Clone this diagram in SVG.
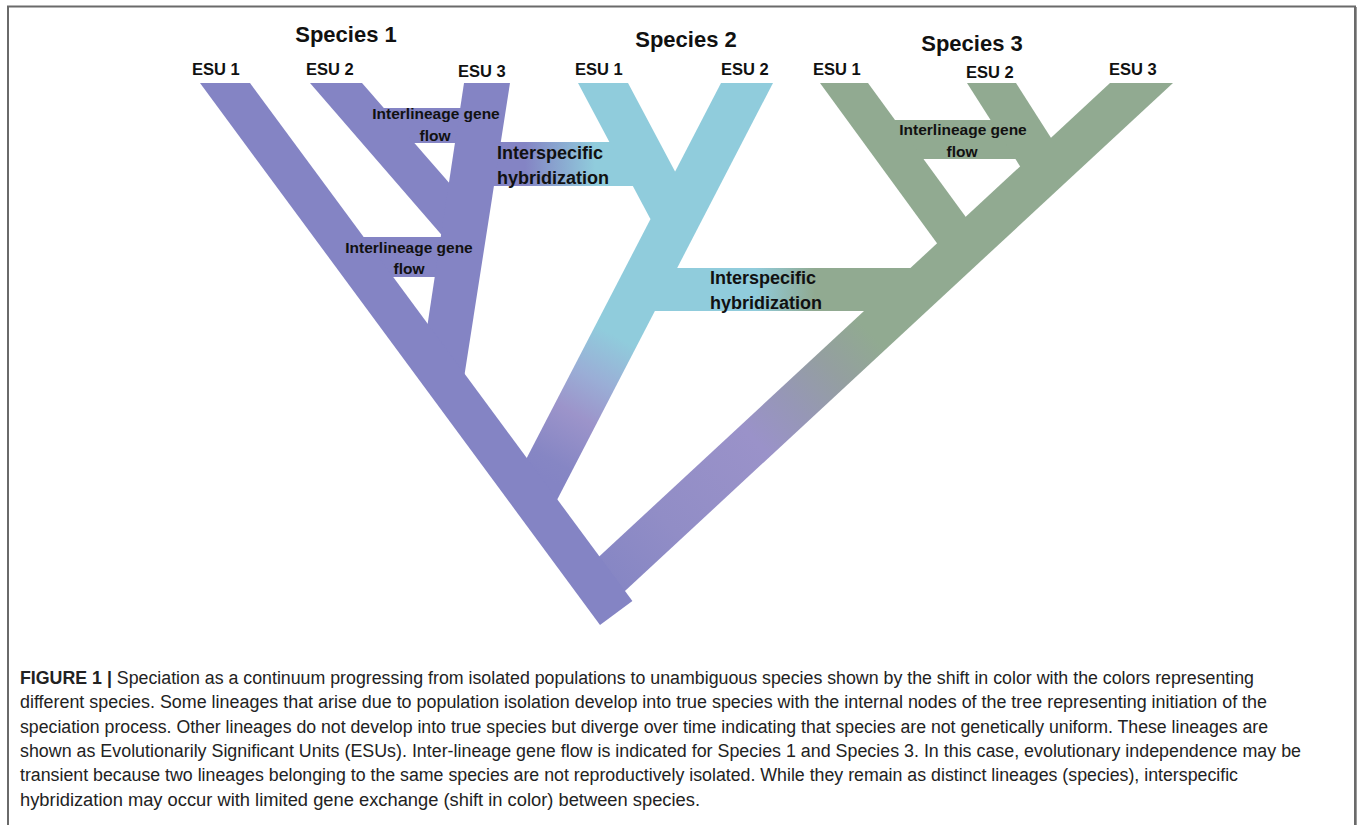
<svg xmlns="http://www.w3.org/2000/svg" width="1358" height="825" viewBox="0 0 1358 825">
  <style>
    .sp1 { fill: #8484C4; }
    .sp2 { fill: #90CCDC; }
    .sp3 { fill: #91AA91; }
    .title { font-family: "Liberation Sans", Arial, sans-serif; font-weight: bold; font-size: 22px; fill: #111; text-anchor: middle; }
    .esu { font-family: "Liberation Sans", Arial, sans-serif; font-weight: bold; font-size: 16.5px; fill: #111; }
    .gf { font-family: "Liberation Sans", Arial, sans-serif; font-weight: bold; font-size: 15.5px; fill: #111; text-anchor: middle; }
    .hy { font-family: "Liberation Sans", Arial, sans-serif; font-weight: bold; font-size: 18px; fill: #111; }
    .cap { font-family: "Liberation Sans", Arial, sans-serif; font-size: 17.6px; fill: #222; }
    .capb { font-weight: bold; }
  </style>
  <defs>
    <linearGradient id="gBar12" gradientUnits="userSpaceOnUse" x1="525" y1="0" x2="595" y2="0">
      <stop offset="0" stop-color="#8484C4"/>
      <stop offset="1" stop-color="#90CCDC"/>
    </linearGradient>
    <linearGradient id="gBar23" gradientUnits="userSpaceOnUse" x1="755" y1="0" x2="815" y2="0">
      <stop offset="0" stop-color="#90CCDC"/>
      <stop offset="1" stop-color="#91AA91"/>
    </linearGradient>
    <linearGradient id="gSp2" gradientUnits="userSpaceOnUse" x1="640" y1="320" x2="550" y2="480">
      <stop offset="0" stop-color="#90CCDC"/>
      <stop offset="0.14" stop-color="#90CCDC"/>
      <stop offset="0.4" stop-color="#9AAED6"/>
      <stop offset="0.62" stop-color="#9C94CA"/>
      <stop offset="0.9" stop-color="#8686C4"/>
      <stop offset="1" stop-color="#8484C4"/>
    </linearGradient>
    <linearGradient id="gSp3" gradientUnits="userSpaceOnUse" x1="900" y1="300" x2="610" y2="580">
      <stop offset="0" stop-color="#91AA91"/>
      <stop offset="0.11" stop-color="#91AA91"/>
      <stop offset="0.24" stop-color="#949FA0"/>
      <stop offset="0.37" stop-color="#9697B6"/>
      <stop offset="0.5" stop-color="#9A92C9"/>
      <stop offset="0.8" stop-color="#918DC6"/>
      <stop offset="1" stop-color="#8686C4"/>
    </linearGradient>
  </defs>

  <rect width="1358" height="825" fill="#ffffff"/>

  <!-- frame -->
  <g id="frame" fill="none">
    <path d="M8,826 V6.5 H1355 V826" stroke="#6a6a6a" stroke-width="2"/>
    <line x1="1356.5" y1="7" x2="1356.5" y2="826" stroke="#9a9a9a" stroke-width="1"/>
  </g>

  <!-- hybridization bars (connectors between species) -->
  <g id="connectors">
    <rect id="hyb-1-2" x="488" y="142" width="155" height="44" fill="url(#gBar12)"/>
    <rect id="hyb-2-3" x="640" y="268" width="278" height="43" fill="url(#gBar23)"/>
  </g>

  <!-- Species 2 -->
  <g id="species2">
    <polygon class="sp2" points="578,83 628,83 690.2,200 650.4,219"/>
    <polygon fill="url(#gSp2)" points="721,83 773,83 554.4,505 520.5,470"/>
  </g>

  <!-- Species 3 -->
  <g id="species3">
    <rect class="sp3" x="880" y="120" width="155" height="39"/>
    <polygon class="sp3" points="820,83 868,83 975.3,230 945.6,255"/>
    <polygon class="sp3" points="967,83 1016,83 1060,152 1025,174"/>
    <polygon fill="url(#gSp3)" points="1110,83 1173,83 612,603 590,565"/>
  </g>

  <!-- Species 1 -->
  <g id="species1">
    <rect class="sp1" x="375" y="108" width="95" height="35"/>
    <rect class="sp1" x="355" y="237" width="90" height="40"/>
    <polygon class="sp1" points="310,83 362,83 458,193 446,240"/>
    <polygon class="sp1" points="464,83 510,83 462.9,385 425.2,340"/>
    <polygon class="sp1" points="200,83 250,83 632.4,601.1 600,625"/>
  </g>

  <!-- labels -->
  <g id="species-titles">
    <text class="title" x="346" y="42">Species 1</text>
    <text class="title" x="686" y="47">Species 2</text>
    <text class="title" x="972" y="51">Species 3</text>
  </g>
  <g id="esu-labels">
    <text class="esu" x="192" y="75">ESU 1</text>
    <text class="esu" x="306" y="75">ESU 2</text>
    <text class="esu" x="458" y="77">ESU 3</text>
    <text class="esu" x="575" y="75">ESU 1</text>
    <text class="esu" x="721" y="75">ESU 2</text>
    <text class="esu" x="813" y="75">ESU 1</text>
    <text class="esu" x="966" y="78">ESU 2</text>
    <text class="esu" x="1109" y="75">ESU 3</text>
  </g>
  <g id="gene-flow-labels">
    <text class="gf" x="436" y="119">Interlineage gene</text>
    <text class="gf" x="435" y="141">flow</text>
    <text class="gf" x="409" y="253">Interlineage gene</text>
    <text class="gf" x="409" y="274">flow</text>
    <text class="gf" x="963" y="135">Interlineage gene</text>
    <text class="gf" x="962" y="157">flow</text>
  </g>
  <g id="hybridization-labels">
    <text class="hy" x="497" y="159">Interspecific</text>
    <text class="hy" x="497" y="184">hybridization</text>
    <text class="hy" x="710" y="284">Interspecific</text>
    <text class="hy" x="710" y="309">hybridization</text>
  </g>

  <!-- caption -->
  <g id="caption">
    <text class="cap" x="20" y="684" textLength="1234" lengthAdjust="spacingAndGlyphs"><tspan class="capb">FIGURE 1 |</tspan> Speciation as a continuum progressing from isolated populations to unambiguous species shown by the shift in color with the colors representing</text>
    <text class="cap" x="20" y="708" textLength="1247" lengthAdjust="spacingAndGlyphs">different species. Some lineages that arise due to population isolation develop into true species with the internal nodes of the tree representing initiation of the</text>
    <text class="cap" x="20" y="733" textLength="1248" lengthAdjust="spacingAndGlyphs">speciation process. Other lineages do not develop into true species but diverge over time indicating that species are not genetically uniform. These lineages are</text>
    <text class="cap" x="20" y="757" textLength="1281" lengthAdjust="spacingAndGlyphs">shown as Evolutionarily Significant Units (ESUs). Inter-lineage gene flow is indicated for Species 1 and Species 3. In this case, evolutionary independence may be</text>
    <text class="cap" x="20" y="781" textLength="1218" lengthAdjust="spacingAndGlyphs">transient because two lineages belonging to the same species are not reproductively isolated. While they remain as distinct lineages (species), interspecific</text>
    <text class="cap" x="20" y="806" textLength="680" lengthAdjust="spacingAndGlyphs">hybridization may occur with limited gene exchange (shift in color) between species.</text>
  </g>
</svg>
